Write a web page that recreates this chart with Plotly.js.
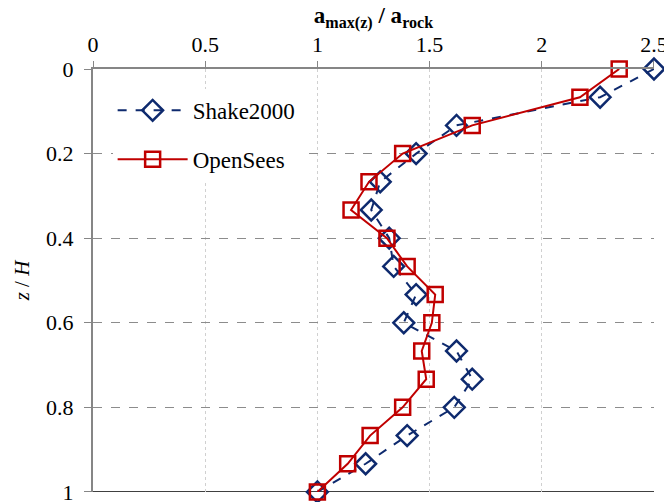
<!DOCTYPE html>
<html>
<head>
<meta charset="utf-8">
<script src="https://cdn.plot.ly/plotly-3.0.1.min.js"></script>
<style>html,body{margin:0;padding:0;background:#fff;}#chart{width:664px;height:502px;}</style>
</head>
<body>
<div id="chart"></div>
<script>
const depthRatio = [0, 0.0667, 0.1333, 0.2, 0.2667, 0.3333, 0.4, 0.4667, 0.5333, 0.6, 0.6667, 0.7333, 0.8, 0.8667, 0.9333, 1];
const shake2000 = [2.50, 2.26, 1.62, 1.44, 1.28, 1.24, 1.32, 1.34, 1.44, 1.385, 1.62, 1.69, 1.61, 1.40, 1.215, 1.0];
const openSees = [2.345, 2.17, 1.69, 1.38, 1.23, 1.15, 1.31, 1.40, 1.525, 1.51, 1.465, 1.485, 1.38, 1.235, 1.135, 1.0];
const xTicks = [0, 0.5, 1, 1.5, 2, 2.5];
const yTicks = [0, 0.2, 0.4, 0.6, 0.8, 1];

const font = "Liberation Serif";

const traces = [
  {
    x: shake2000, y: depthRatio, name: 'Shake2000', type: 'scatter', mode: 'lines+markers',
    legendgroup: 'a',
    line: {color: '#0E2A6E', width: 2, dash: 'dash'},
    marker: {symbol: 'diamond-open', size: 16, color: '#0E2A6E', line: {width: 2.5, color: '#0E2A6E'}},
    cliponaxis: false
  },
  {
    x: openSees, y: depthRatio, name: 'OpenSees', type: 'scatter', mode: 'lines+markers',
    legendgroup: 'b',
    line: {color: '#C00000', width: 2},
    marker: {symbol: 'square-open', size: 15, color: '#C00000', line: {width: 2.5, color: '#C00000'}},
    cliponaxis: false
  }
];

const layout = {
  width: 664, height: 502,
  margin: {l: 93, r: 10, t: 69, b: 10, pad: 0},
  paper_bgcolor: '#fff', plot_bgcolor: '#fff',
  font: {family: font, size: 18, color: '#000'},
  showlegend: true,
  legend: {
    x: 0.035, y: 0.953, xanchor: 'left', yanchor: 'top',
    bgcolor: '#fff', borderwidth: 0,
    font: {family: font, size: 23, color: '#000'},
    itemwidth: 70, tracegroupgap: 16
  },
  xaxis: {
    side: 'top', range: [0, 2.5001], tickvals: xTicks, ticktext: xTicks.map(String),
    showline: true, linecolor: '#868686', linewidth: 2,
    ticks: 'outside', ticklen: 6, tickcolor: '#868686', tickwidth: 1,
    showgrid: true, gridcolor: '#D0D0D0', griddash: 'dot', gridwidth: 1,
    zeroline: false, ticklabeloverflow: 'allow',
    tickfont: {family: font, size: 22, color: '#000'},
    title: {text: '<b>a<sub>max(z)</sub> / a<sub>rock</sub></b>', font: {family: font, size: 23, color: '#000'}, standoff: 2}
  },
  yaxis: {
    range: [1.0001, 0], tickvals: yTicks, ticktext: yTicks.map(String),
    showline: true, linecolor: '#868686', linewidth: 2,
    ticks: 'outside', ticklen: 7, tickcolor: '#868686', tickwidth: 1,
    showgrid: true, gridcolor: '#8C8C8C', griddash: 'dash', gridwidth: 1,
    zeroline: false, ticklabeloverflow: 'allow', ticklabelstandoff: 6,
    tickfont: {family: font, size: 22, color: '#000'},
    title: {text: '<i>z</i> / <i>H</i>', font: {family: font, size: 21, color: '#000'}, standoff: 11}
  },
  shapes: [
    {type: 'line', xref: 'paper', yref: 'y', x0: 0, x1: 1, y0: 1, y1: 1, line: {color: '#000', width: 1.5}, layer: 'below'}
  ]
};

Plotly.newPlot('chart', traces, layout, {displayModeBar: false, staticPlot: true});
</script>
</body>
</html>
